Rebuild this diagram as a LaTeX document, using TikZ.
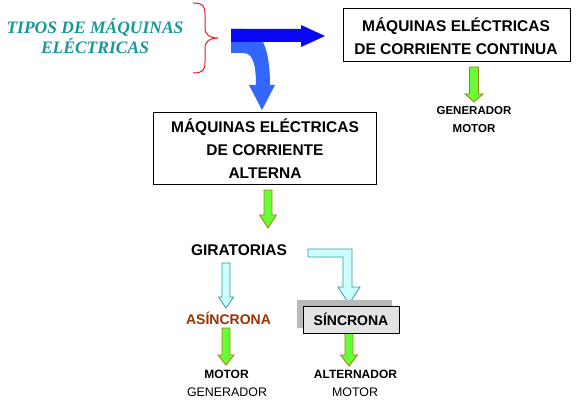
\documentclass[tikz,border=0pt]{standalone}
\usepackage{fontspec}
\setmainfont{Liberation Sans}
\newfontfamily\titlefont{Liberation Serif}
\definecolor{titleteal}{RGB}{26,152,152}
\definecolor{darkblue}{RGB}{8,8,245}
\definecolor{lightblue}{RGB}{51,102,255}
\definecolor{grfill}{RGB}{102,255,51}
\definecolor{grdraw}{RGB}{170,120,20}
\definecolor{cyfill}{RGB}{204,255,255}
\definecolor{cydraw}{RGB}{51,153,153}
\definecolor{asbrown}{RGB}{153,51,0}
\definecolor{bracered}{RGB}{230,30,30}
\newcommand\blkdown[7]{\filldraw[#1] (#2-#6,#3) -- (#2+#6,#3) -- (#2+#6,#4) -- (#2+#7,#4) -- (#2,#5) -- (#2-#7,#4) -- (#2-#6,#4) -- cycle;}
\begin{document}
\begin{tikzpicture}[x=1pt,y=-1pt,
  greenarrow/.style={fill=grfill, draw=grdraw, line width=0.8pt, line join=miter},
  cyanarrow/.style={fill=cyfill, draw=cydraw, line width=0.8pt, line join=miter},
  boxtext/.style={font=\fontsize{15.5}{23}\selectfont\bfseries, align=center, inner sep=0pt},
  framebox/.style={draw=black, line width=1pt, inner sep=0pt},
  biglbl/.style={font=\fontsize{15.5}{18}\selectfont\bfseries, inner sep=0pt, text height=11.1pt, text depth=0pt},
  midlbl/.style={font=\fontsize{14}{16}\selectfont\bfseries, inner sep=0pt, text height=10pt, text depth=0pt},
  smallbold/.style={font=\fontsize{12}{14}\selectfont\bfseries, inner sep=0pt, text height=8.6pt, text depth=0pt},
  smallreg/.style={font=\fontsize{12.4}{14}\selectfont, inner sep=0pt, text height=8.9pt, text depth=0pt},
  topbold/.style={font=\fontsize{11.5}{14}\selectfont\bfseries, inner sep=0pt, text height=8.2pt, text depth=0pt}]
\useasboundingbox[fill=white] (0,0) rectangle (580,401);

% title and brace
\node[font=\titlefont\fontsize{17.5}{20.5}\selectfont\bfseries\itshape, text=titleteal, align=center, inner sep=0pt] (title) at (95,36) {TIPOS DE MÁQUINAS\\ELÉCTRICAS};
\draw[bracered, line width=1pt] (193,3) .. controls (203,3) and (205,6) .. (205,14) -- (205,28) .. controls (205,35) and (210,38) .. (218,38) .. controls (210,38) and (205,41) .. (205,48) -- (205,62) .. controls (205,70) and (203,73) .. (193,73);

% blue arrows
\fill[lightblue] (231,29) -- (245,29) .. controls (262,29) and (270,50) .. (270,85) -- (275,85) -- (262,110) -- (249,85) -- (256,85) .. controls (256,62) and (252,53) .. (243,53) -- (231,53) -- cycle;
\fill[darkblue] (231,29) -- (301,29) -- (301,25) -- (325,36) -- (301,47) -- (301,42) -- (231,42) -- cycle;

% DC box
\node[framebox, minimum width=227pt, minimum height=53pt] (dcbox) at (456.5,35.5) {};
\node[boxtext] (dctext) at (456,36) {MÁQUINAS ELÉCTRICAS\\DE CORRIENTE CONTINUA};
\blkdown{greenarrow}{474}{67}{94}{102}{4.5}{9}
\node[topbold] (dcgen) at (474,110) {GENERADOR};
\node[topbold] (dcmot) at (474,128) {MOTOR};

% AC box
\node[framebox, minimum width=223pt, minimum height=72pt] (acbox) at (264.5,148) {};
\node[boxtext] (actext) at (265,149) {MÁQUINAS ELÉCTRICAS\\DE CORRIENTE\\ALTERNA};
\blkdown{greenarrow}{268}{190}{215}{228}{4}{8.5}

\node[biglbl] (gir) at (239,249.5) {GIRATORIAS};

% cyan arrows
\blkdown{cyanarrow}{226}{263}{297}{308}{4}{7.5}
\filldraw[cyanarrow] (308,249) -- (352,249) -- (352,287) -- (360,287) -- (349,304) -- (338,287) -- (343,287) -- (343,257) -- (308,257) -- cycle;

\node[midlbl, text=asbrown] (asin) at (228.5,319.5) {ASÍNCRONA};

% synchronous box with shadow
\fill[gray!55] (297,300) rectangle (392,328);
\blkdown{greenarrow}{349}{328}{355}{366}{4}{8.5}
\node[framebox, fill=gray!22, minimum width=96pt, minimum height=27pt] (sinbox) at (351,319.5) {};
\node[midlbl] (sin) at (351,320) {SÍNCRONA};

\blkdown{greenarrow}{226}{328}{355}{365}{4}{8}

\node[smallbold] (amot) at (226.5,374) {MOTOR};
\node[smallreg] (agen) at (227,392) {GENERADOR};
\node[smallbold] (salt) at (355.5,374) {ALTERNADOR};
\node[smallreg] (smot) at (355,392) {MOTOR};
\end{tikzpicture}
\end{document}
